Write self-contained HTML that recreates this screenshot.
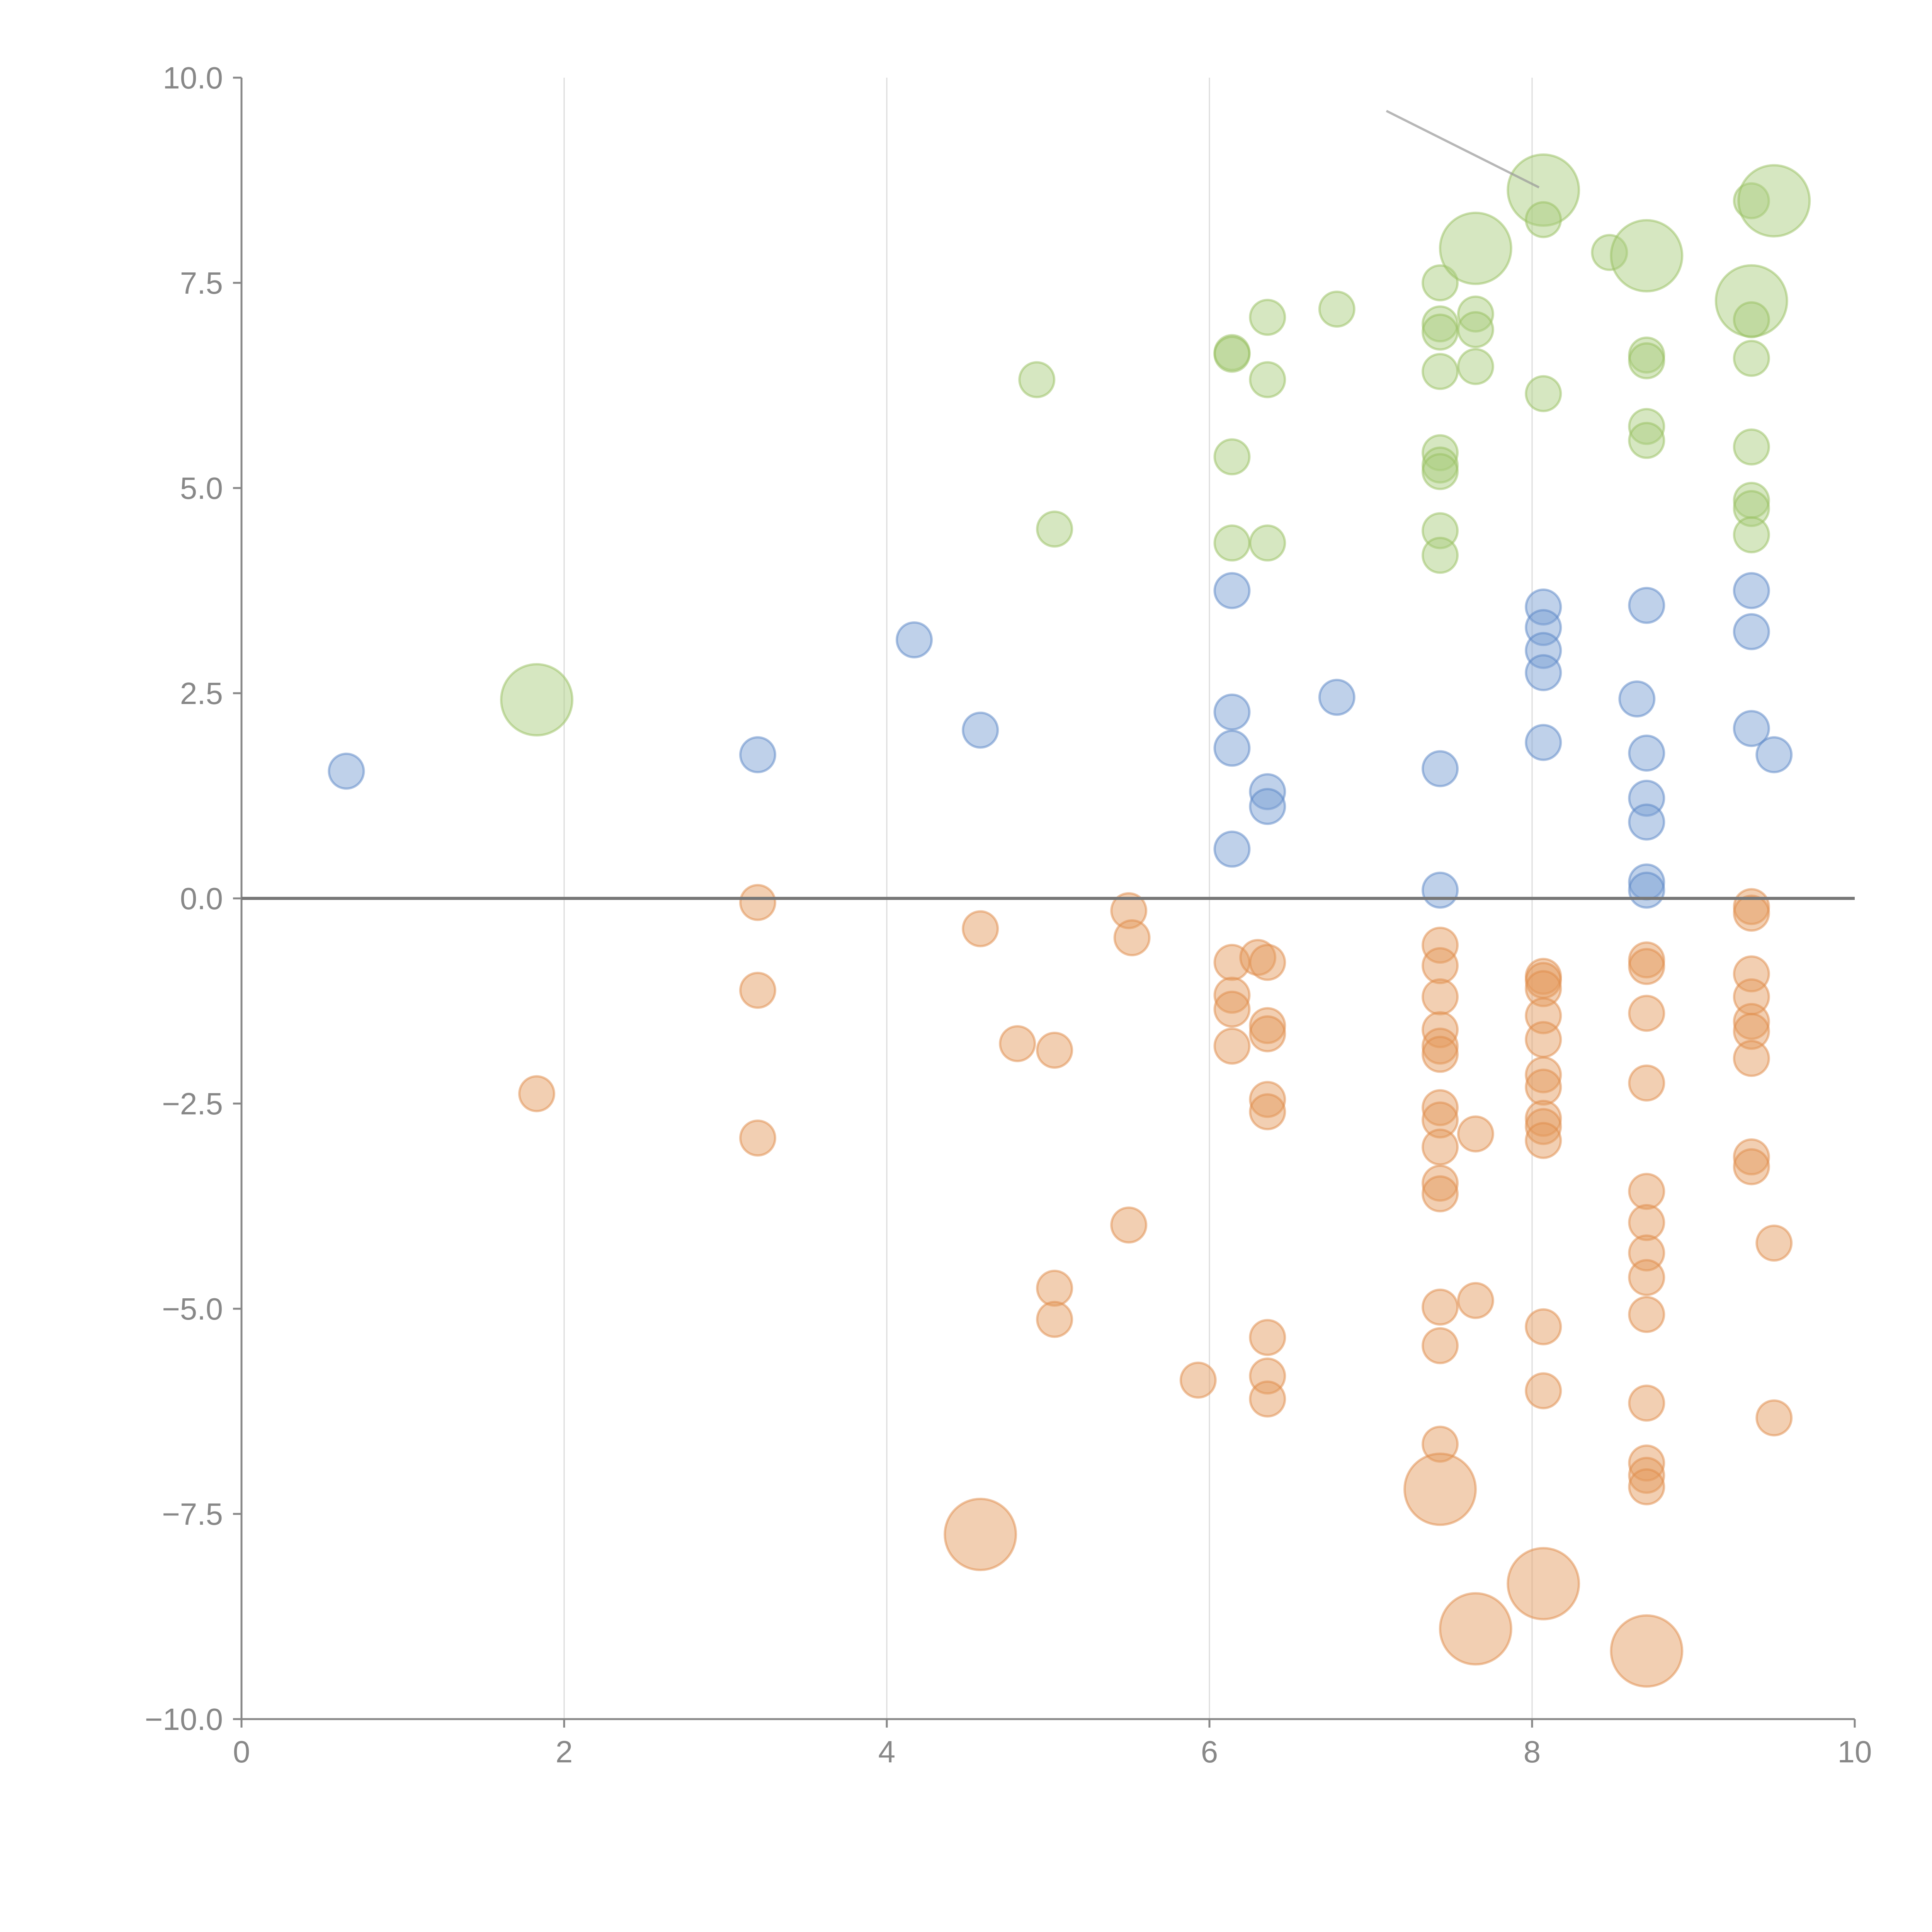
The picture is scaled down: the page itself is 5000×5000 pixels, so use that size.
<!DOCTYPE html>
<html><head><meta charset="utf-8"><style>html,body{margin:0;padding:0;background:#fff}svg{display:block}</style></head>
<body>
<svg id="chart" width="5000" height="5000" viewBox="0 0 5000 5000" xmlns="http://www.w3.org/2000/svg" font-family="Liberation Sans, sans-serif"></svg>
<script>
const xTicks=[0,2,4,6,8,10];
const yTicks=[-10,-7.5,-5,-2.5,0,2.5,5,7.5,10];
const yTickLabels=["\u221210.0","\u22127.5","\u22125.0","\u22122.5","0.0","2.5","5.0","7.5","10.0"];
const blueX=[0.65,3.2,4.17,4.58,6.14,6.14,6.14,6.14,6.36,6.36,6.79,7.43,7.43,8.07,8.07,8.07,8.07,8.07,8.65,8.71,8.71,8.71,8.71,8.71,8.71,9.36,9.36,9.36,9.5];
const blueY=[1.55,1.75,3.15,2.05,3.75,2.27,1.83,0.6,1.3,1.12,2.45,1.58,0.1,3.55,3.3,3.02,2.75,1.9,2.43,3.57,1.77,1.22,0.93,0.2,0.1,3.75,3.25,2.07,1.75];
const greenX=[1.83,4.93,5.04,6.14,6.14,6.14,6.14,6.36,6.36,6.36,6.79,7.43,7.43,7.43,7.43,7.43,7.43,7.43,7.43,7.43,7.65,7.65,7.65,7.65,8.07,8.07,8.07,8.48,8.71,8.71,8.71,8.71,8.71,9.36,9.36,9.36,9.5,9.36,9.36,9.36,9.36,9.36];
const greenY=[2.42,6.32,4.5,6.65,6.63,5.38,4.33,7.08,6.32,4.33,7.18,7.5,7.0,6.9,6.42,5.43,5.28,5.2,4.48,4.18,7.92,7.12,6.93,6.48,8.63,8.27,6.15,7.87,7.83,6.62,6.55,5.75,5.58,7.28,7.05,8.5,8.5,6.58,5.5,4.85,4.75,4.43];
const greenBig=[1,0,0,0,0,0,0,0,0,0,0,0,0,0,0,0,0,0,0,0,1,0,0,0,1,0,0,0,1,0,0,0,0,1,0,0,1,0,0,0,0,0];
const orangeX=[1.83,3.2,3.2,3.2,4.58,4.58,4.81,5.04,5.04,5.04,5.5,5.52,5.5,5.93,6.14,6.14,6.14,6.14,6.3,6.36,6.36,6.36,6.36,6.36,6.36,6.36,6.36,7.43,7.43,7.43,7.43,7.43,7.43,7.43,7.43,7.43,7.43,7.43,7.43,7.43,7.43,7.43,7.65,7.65,7.65,8.07,8.07,8.07,8.07,8.07,8.07,8.07,8.07,8.07,8.07,8.07,8.07,8.07,8.71,8.71,8.71,8.71,8.71,8.71,8.71,8.71,8.71,8.71,8.71,8.71,8.71,8.71,9.36,9.36,9.36,9.36,9.36,9.36,9.36,9.36,9.36,9.5,9.5];
const orangeY=[-2.38,-0.05,-1.12,-2.92,-0.37,-7.75,-1.77,-1.85,-4.75,-5.13,-0.15,-0.48,-3.98,-5.87,-0.78,-1.18,-1.35,-1.8,-0.72,-0.78,-1.55,-1.65,-2.45,-2.6,-5.35,-5.82,-6.1,-0.57,-0.82,-1.2,-1.6,-1.8,-1.9,-2.55,-2.7,-3.03,-3.47,-3.6,-4.98,-5.45,-6.65,-7.2,-2.87,-4.9,-8.9,-0.95,-1.0,-1.1,-1.43,-1.72,-2.15,-2.3,-2.68,-2.78,-2.95,-5.22,-6.0,-8.35,-0.75,-0.83,-1.4,-2.25,-3.57,-3.95,-4.32,-4.62,-5.07,-6.15,-6.88,-7.03,-7.17,-9.17,-0.1,-0.18,-0.92,-1.2,-1.5,-1.62,-1.95,-3.15,-3.27,-4.2,-6.33];
const orangeBig=orangeY.map((v,i)=>[5,41,44,57,71].includes(i)?1:0);

const NS="http://www.w3.org/2000/svg";
const svg=document.getElementById('chart');
const X0=625,X1=4800,Y0=4449,Y1=201;
const sx=v=>X0+(v-0)/(10-0)*(X1-X0);
const sy=v=>Y0-(v+10)/20*(Y0-Y1);
function mk(t,a){const e=document.createElementNS(NS,t);for(const k in a)e.setAttribute(k,a[k]);svg.appendChild(e);return e;}
[2,4,6,8].forEach(v=>{
 const g=mk('line',{x1:sx(v),x2:sx(v),y1:Y1,y2:Y0,stroke:'#dcdcdc','stroke-width':3});
 
 
});
const ya=mk('line',{x1:X0,x2:X0,y1:Y1,y2:Y0+20,stroke:'#888','stroke-width':5});


const xa=mk('line',{x1:X0-20,x2:X1,y1:Y0,y2:Y0,stroke:'#888','stroke-width':5});


xTicks.forEach(v=>{
 const t=mk('line',{x1:sx(v),x2:sx(v),y1:Y0,y2:Y0+22,stroke:'#888','stroke-width':5});
 
 
 const l=mk('text',{x:sx(v),y:Y0+112,'text-anchor':'middle','font-size':80,fill:'#888'});
 l.textContent=String(v);
 
 
});
yTicks.forEach((v,i)=>{
 const t=mk('line',{x1:X0-22,x2:X0,y1:sy(v),y2:sy(v),stroke:'#888','stroke-width':5});
 
 
 const l=mk('text',{x:X0-48,y:sy(v)+28,'text-anchor':'end','font-size':80,fill:'#888'});
 l.textContent=yTickLabels[i];
 
 
});
function series(xs,ys,big,fill,stroke,name){
 xs.forEach((x,i)=>{
  const c=mk('circle',{cx:sx(x),cy:sy(ys[i]),r:(big&&big[i])?92:45,fill:fill,'fill-opacity':0.48,stroke:stroke,'stroke-opacity':0.5,'stroke-width':6});
  
  
 });
}
series(orangeX,orangeY,orangeBig,'#e39a5e','#e08c4a','orange-bubble');
series(blueX,blueY,null,'#7a9fd4','#5a85c5','blue-bubble');
series(greenX,greenY,greenBig,'#a9cc7e','#98c060','green-bubble');
const z=mk('line',{x1:X0,x2:X1,y1:sy(0),y2:sy(0),stroke:'#777','stroke-width':8});


const a=mk('line',{x1:3588,y1:287,x2:3983,y2:485,stroke:'#999','stroke-opacity':0.7,'stroke-width':6});


</script>
</body></html>
